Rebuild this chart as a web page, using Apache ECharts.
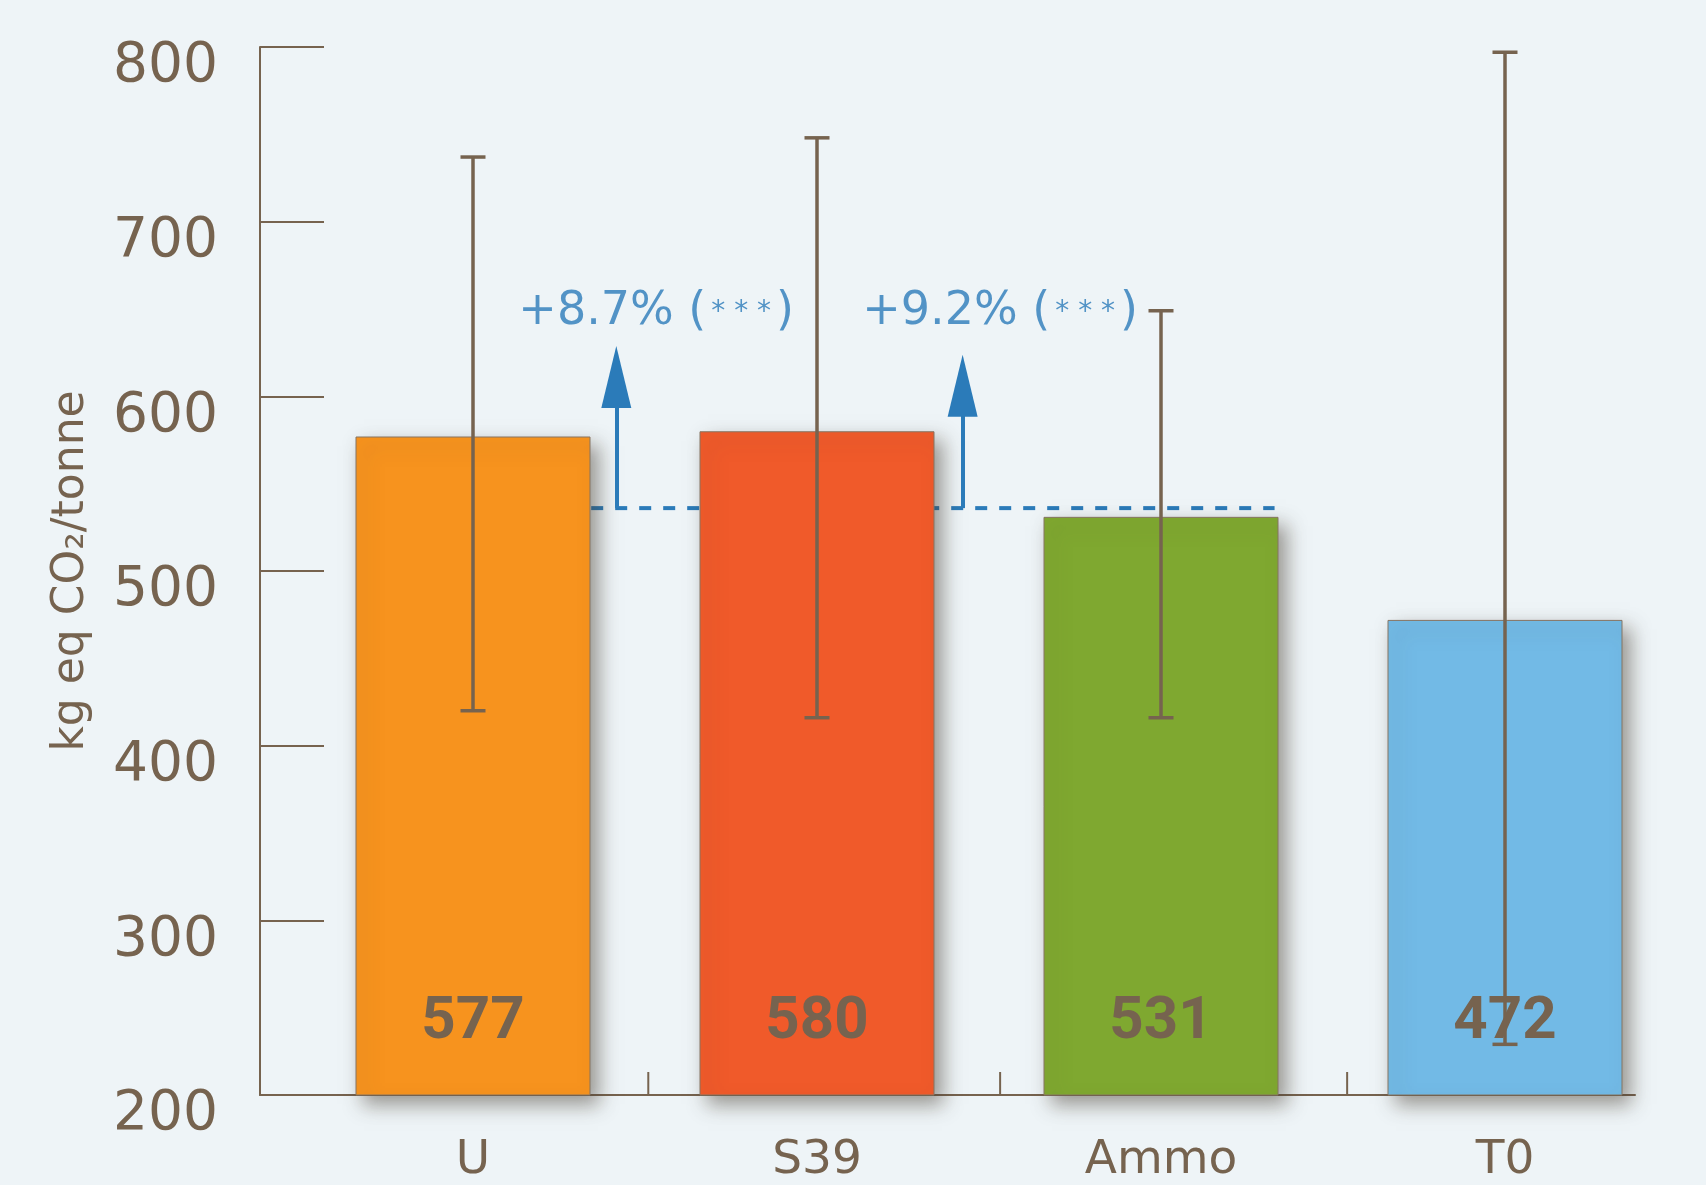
<!DOCTYPE html>
<html>
<head>
<meta charset="utf-8">
<title>kg eq CO2/tonne</title>
<script src="https://cdn.jsdelivr.net/npm/echarts@6.0.0/dist/echarts.min.js"></script>
<style>
    html, body { margin: 0; padding: 0; background: #eef4f7; }
    #main { width: 1706px; height: 1185px; }
</style>
</head>
<body>
<div id="main"></div>
<script>
    // data
    var categories = ['U', 'S39', 'Ammo', 'T0'];
    var values = [577, 580, 531, 472];
    var errLow = [420, 416, 416, 229];
    var errHigh = [737, 748, 649, 797];
    var refLevel = 536;          // dashed reference line (Ammo level)
    var stars = ['***', '***'];  // significance of U and S39 vs Ammo
    var yMin = 200, yMax = 800, yStep = 100;

    var barColors = ['#f7931e', '#f05a2a', '#7fa830', '#72bae6'];
    var brown = '#76634f';
    var blue = '#2b7bb9';

    // +x% of U and S39 over Ammo
    var pctTexts = [values[0], values[1]].map(function (v) {
        return '+' + ((v / values[2] - 1) * 100).toFixed(1) + '%';
    });

    var chart = echarts.init(document.getElementById('main'));

    var option = {
        backgroundColor: '#eef4f7',
        animation: false,
        textStyle: { fontFamily: 'DejaVu Sans' },
        grid: [
            { left: 301, right: 29, top: 47, bottom: 90 },
            { left: 260, right: 71, top: 47, bottom: 90 }
        ],
        xAxis: [
            {
                type: 'category',
                gridIndex: 0,
                data: categories,
                axisLine: { show: false },
                axisTick: { show: false },
                axisLabel: { color: brown, fontSize: 47, margin: 42 }
            },
            {
                // only the bottom axis line + annotation positions
                type: 'value',
                gridIndex: 1,
                min: -0.62,
                max: 3.378,
                axisLine: { show: true, onZero: false, lineStyle: { color: brown, width: 2 } },
                axisTick: { show: false },
                axisLabel: { show: false },
                splitLine: { show: false }
            }
        ],
        yAxis: [
            {
                type: 'value',
                gridIndex: 0,
                min: yMin,
                max: yMax,
                interval: yStep,
                offset: 41,
                name: 'kg eq CO₂/tonne',
                nameLocation: 'middle',
                nameRotate: 90,
                nameGap: 166,
                nameTextStyle: { color: brown, fontSize: 44 },
                axisLine: { show: true, lineStyle: { color: brown, width: 2 } },
                axisTick: { show: true, inside: true, length: 64, lineStyle: { color: brown, width: 2 } },
                axisLabel: { color: brown, fontSize: 55, margin: 42, verticalAlign: 'top', lineHeight: 40 },
                splitLine: { show: false }
            },
            { type: 'value', gridIndex: 1, min: yMin, max: yMax, show: false }
        ],
        series: [
            {
                name: 'ref',
                type: 'line',
                xAxisIndex: 1,
                yAxisIndex: 1,
                z: 1,
                symbol: 'none',
                data: [[0.343, refLevel], [2.33, refLevel]],
                lineStyle: { color: blue, width: 4, type: [12, 12] },
                markLine: {
                    silent: true,
                    symbol: ['none', 'path://M0,0 L1,2 L-1,2 Z'],
                    label: { show: false },
                    lineStyle: { color: blue, width: 4, type: 'solid' },
                    data: [
                        [{ coord: [0.416, refLevel] }, { coord: [0.416, 611], symbolSize: [30, 62] }],
                        [{ coord: [1.423, refLevel] }, { coord: [1.423, 606], symbolSize: [30, 62] }]
                    ]
                }
            },
            {
                name: 'value',
                type: 'bar',
                xAxisIndex: 0,
                yAxisIndex: 0,
                z: 2,
                barWidth: 235,
                data: values.map(function (v, i) {
                    return { value: v, itemStyle: { color: barColors[i] } };
                }),
                itemStyle: {
                    borderColor: '#857462',
                    borderWidth: 1,
                    shadowBlur: 18,
                    shadowColor: 'rgba(70, 60, 45, 0.5)',
                    shadowOffsetX: 8,
                    shadowOffsetY: 9
                },
                label: {
                    show: true,
                    position: 'insideBottom',
                    distance: 43,
                    fontFamily: 'Roboto',
                    fontWeight: 'bold',
                    fontSize: 60,
                    color: brown
                }
            },
            {
                name: 'error',
                type: 'custom',
                xAxisIndex: 0,
                yAxisIndex: 0,
                z: 4,
                encode: { x: 0, y: [1, 2] },
                data: categories.map(function (c, i) {
                    return [i, errLow[i], errHigh[i]];
                }),
                renderItem: function (params, api) {
                    var lo = api.coord([api.value(0), api.value(1)]);
                    var hi = api.coord([api.value(0), api.value(2)]);
                    var half = 12.5;
                    var style = { stroke: brown, lineWidth: 3.5 };
                    return {
                        type: 'group',
                        children: [
                            { type: 'line', shape: { x1: hi[0], y1: hi[1], x2: lo[0], y2: lo[1] }, style: style },
                            { type: 'line', shape: { x1: hi[0] - half, y1: hi[1], x2: hi[0] + half, y2: hi[1] }, style: style },
                            { type: 'line', shape: { x1: lo[0] - half, y1: lo[1], x2: lo[0] + half, y2: lo[1] }, style: style }
                        ]
                    };
                }
            },
            {
                // small ticks between the categories on the bottom axis
                name: 'ticks',
                type: 'custom',
                xAxisIndex: 1,
                yAxisIndex: 1,
                z: 3,
                encode: { x: 0 },
                data: [[0.509], [1.532], [2.541]],
                renderItem: function (params, api) {
                    var p = api.coord([api.value(0), yMin]);
                    return {
                        type: 'line',
                        shape: { x1: p[0], y1: p[1], x2: p[0], y2: p[1] - 23 },
                        style: { stroke: brown, lineWidth: 2 }
                    };
                }
            },
            {
                name: 'notes',
                type: 'scatter',
                xAxisIndex: 1,
                yAxisIndex: 1,
                z: 5,
                symbolSize: 0,
                data: [[0.532, 648], [1.532, 648]],
                label: {
                    show: true,
                    position: 'inside',
                    formatter: function (p) {
                        return '{t|' + pctTexts[p.dataIndex] + ' (}{s|' +
                            stars[p.dataIndex].split('').join(' ') + '}{t|)}';
                    },
                    rich: {
                        t: { fontSize: 46, color: blue, fontFamily: 'DejaVu Sans' },
                        s: { fontSize: 28, color: blue, fontFamily: 'DejaVu Sans', padding: [0, 5, 0, 5] }
                    }
                }
            }
        ]
    };

    chart.setOption(option);
</script>
</body>
</html>
